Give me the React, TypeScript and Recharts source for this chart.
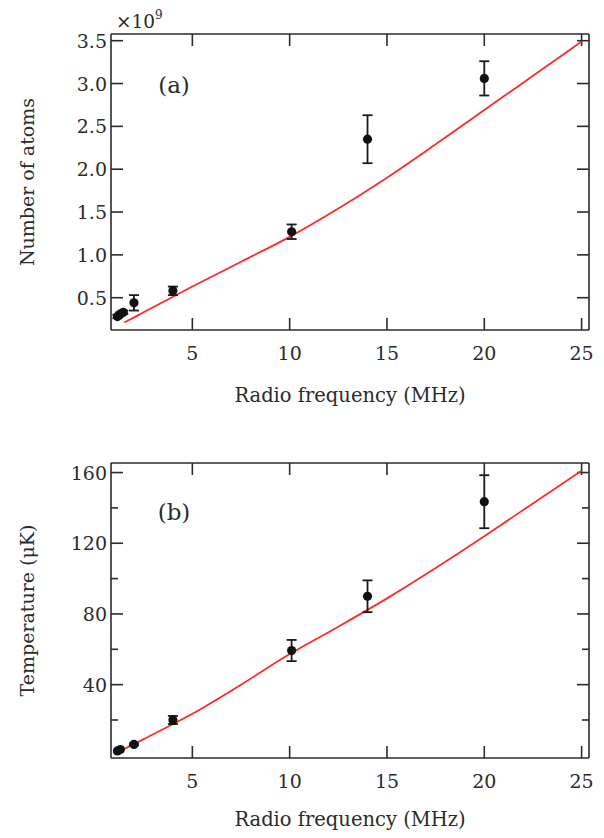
import { ScatterChart, Scatter, XAxis, YAxis } from 'recharts';

const FONT = '"DejaVu Serif", serif';
const INK = '#2b2b2b';
const FIT_RED = '#ff2a2a';

const freqTicks = [5, 10, 15, 20, 25];
const freqDomain = [0.82, 25.38];

// (a) number of atoms, units of 1e9
const atomFreq = [1.15, 1.3, 1.45, 2, 4, 10.1, 14, 20];
const atomCount = [0.28, 0.31, 0.33, 0.44, 0.58, 1.27, 2.35, 3.06];
const atomErr = [0.02, 0.02, 0.02, 0.09, 0.05, 0.085, 0.28, 0.2];
const atomFitFreq = [1.5, 2.5, 5, 7.5, 10, 12.5, 15, 17.5, 20, 22.5, 25];
const atomFit = [0.21, 0.33, 0.63, 0.92, 1.21, 1.54, 1.9, 2.29, 2.69, 3.09, 3.49];
const atomTicks = [0.5, 1.0, 1.5, 2.0, 2.5, 3.0, 3.5];

// (b) temperature, uK
const tempFreq = [1.15, 1.3, 2, 4, 10.1, 14, 20];
const tempVal = [2.5, 3.3, 6.2, 20, 59.3, 90, 143.5];
const tempErr = [0, 0, 0.5, 2.3, 6, 9, 15];
const tempFitFreq = [1.2, 2.5, 5, 7.5, 10, 12.5, 15, 17.5, 20, 22.5, 25];
const tempFit = [2.0, 9.2, 23.5, 40, 57.3, 72.8, 88.8, 106, 124, 142.5, 161];
const tempTicks = [40, 80, 120, 160];
const tempMinor = [20, 60, 100, 140];

const atomPoints = atomFreq.map((f, i) => ({ f, v: atomCount[i], err: atomErr[i] }));
const atomLine = atomFitFreq.map((f, i) => ({ f, v: atomFit[i] }));
const tempPoints = tempFreq.map((f, i) => ({ f, v: tempVal[i], err: tempErr[i] }));
const tempLine = tempFitFreq.map((f, i) => ({ f, v: tempFit[i] }));

const MAJOR = 12;
const MINOR = 7;

const axisLine = { stroke: INK, strokeWidth: 1.6 };
const emptyTick = () => <g />;

const leftLabel = (fmt: (v: number) => string) => (props: any) => (
  <text x={props.x} y={props.y} textAnchor="end" dominantBaseline="central" fontFamily={FONT} fontSize={19} fill={INK}>
    {fmt(props.payload.value)}
  </text>
);

const bottomLabel = (props: any) => (
  <text x={props.x} y={props.y} textAnchor="middle" dominantBaseline="central" fontFamily={FONT} fontSize={19} fill={INK}>
    {props.payload.value}
  </text>
);

const xTitle = (dy: number) => (props: any) => {
  const vb = props.viewBox;
  return (
    <text x={vb.x + vb.width / 2} y={vb.y + dy} textAnchor="middle" dominantBaseline="central" fontFamily={FONT} fontSize={19.5} fill={INK}>
      Radio frequency (MHz)
    </text>
  );
};

const yTitle = (text: string) => (props: any) => {
  const vb = props.viewBox;
  return (
    <text transform={`translate(27, ${vb.y + vb.height / 2}) rotate(-90)`} textAnchor="middle" dominantBaseline="central" fontFamily={FONT} fontSize={19} fill={INK}>
      {text}
    </text>
  );
};

// panel tag "(a)"/"(b)" and the x10^9 multiplier, placed from the top axis box
const panelTag = (tag: string, tagDy: number, multiplier: boolean) => (props: any) => {
  const vb = props.viewBox;
  const plotTop = vb.y + vb.height;
  return (
    <g fontFamily={FONT} fill={INK}>
      {multiplier && (
        <text x={vb.x + 5} y={plotTop - 6} fontSize={18.5}>
          ×10<tspan dy={-9} fontSize={12}>9</tspan>
        </text>
      )}
      <text x={vb.x + 63} y={plotTop + tagDy} textAnchor="middle" fontSize={23}>{tag}</text>
    </g>
  );
};

// data point with its vertical error bar; pxPerUnit follows the linear y scale of the panel
const pointShape = (pxPerUnit: number) => (p: any) => {
  const e = (p.payload.err || 0) * pxPerUnit;
  return (
    <g>
      {e > 0.5 && (
        <g stroke="#1a1a1a" strokeWidth={1.8}>
          <line x1={p.cx} y1={p.cy - e} x2={p.cx} y2={p.cy + e} />
          <line x1={p.cx - 5} y1={p.cy - e} x2={p.cx + 5} y2={p.cy - e} />
          <line x1={p.cx - 5} y1={p.cy + e} x2={p.cx + 5} y2={p.cy + e} />
        </g>
      )}
      <circle cx={p.cx} cy={p.cy} r={4.6} fill="#111" />
    </g>
  );
};
const noDot = () => <g />;

// inward frame tick, anchored at a point on the frame that the scales place
const frameTick = (p: any) => {
  const { dir, len } = p.payload;
  const dx = dir === 'right' ? len : dir === 'left' ? -len : 0;
  const dy = dir === 'down' ? len : dir === 'up' ? -len : 0;
  return <line x1={p.cx} y1={p.cy} x2={p.cx + dx} y2={p.cy + dy} stroke={INK} strokeWidth={1.6} />;
};

function Panel(props: {
  height: number; top: number; xAxisH: number; titleDy: number; tag: string; tagDy: number; multiplier: boolean;
  points: any[]; line: any[]; yDomain: number[]; yTicks: number[]; yMinor: number[];
  fmt: (v: number) => string; yLabel: string;
}) {
  const { height, top, xAxisH, titleDy, tag, tagDy, multiplier, points, line, yDomain, yTicks, yMinor, fmt, yLabel } = props;
  const plotH = height - top - xAxisH;
  const [x0, x1] = freqDomain;
  const [y0, y1] = yDomain;

  const frame = [
    ...freqTicks.map((f) => ({ f, v: y0, dir: 'up', len: MAJOR })),
    ...freqTicks.map((f) => ({ f, v: y1, dir: 'down', len: MAJOR })),
    ...yTicks.map((v) => ({ f: x0, v, dir: 'right', len: MAJOR })),
    ...yTicks.map((v) => ({ f: x1, v, dir: 'left', len: MAJOR })),
    ...yMinor.map((v) => ({ f: x0, v, dir: 'right', len: MINOR })),
    ...yMinor.map((v) => ({ f: x1, v, dir: 'left', len: MINOR })),
  ];

  return (
    <ScatterChart width={604} height={height} margin={{ top: 0, right: 0, bottom: 0, left: 0 }}>
      <XAxis type="number" dataKey="f" domain={freqDomain} allowDataOverflow ticks={freqTicks} interval={0}
        height={xAxisH} axisLine={axisLine} tickLine={false} tickSize={-12} tickMargin={35}
        tick={bottomLabel} label={{ content: xTitle(titleDy) }} />
      <XAxis xAxisId="top" orientation="top" type="number" dataKey="f" domain={freqDomain} allowDataOverflow
        ticks={freqTicks} interval={0} height={top} axisLine={axisLine} tickLine={false}
        tick={emptyTick} label={{ content: panelTag(tag, tagDy, multiplier) }} />
      <YAxis type="number" dataKey="v" domain={yDomain} allowDataOverflow ticks={yTicks} interval={0}
        width={111} axisLine={axisLine} tickLine={false} tickSize={-12} tickMargin={16}
        tick={leftLabel(fmt)} label={{ content: yTitle(yLabel) }} />
      <YAxis yAxisId="right" orientation="right" type="number" dataKey="v" domain={yDomain} allowDataOverflow
        ticks={yTicks} interval={0} width={604 - 589} axisLine={axisLine} tickLine={false} tick={emptyTick} />
      <Scatter data={frame} fill={INK} shape={frameTick} isAnimationActive={false} legendType="none" />
      <Scatter data={line} fill={FIT_RED} line={{ stroke: FIT_RED, strokeWidth: 1.8 }} lineJointType="monotoneX"
        shape={noDot} isAnimationActive={false} legendType="none" />
      <Scatter data={points} fill="#111" shape={pointShape(plotH / (y1 - y0))} isAnimationActive={false} legendType="none" />
    </ScatterChart>
  );
}

export default function App() {
  return (
    <div style={{ marginLeft: -8, marginTop: -8, width: 604, height: 838, background: '#fff' }}>
      <Panel height={420} top={34} xAxisH={90} titleDy={65.5} tag="(a)" tagDy={59} multiplier
        points={atomPoints} line={atomLine} yDomain={[0.123, 3.578]} yTicks={atomTicks} yMinor={[]}
        fmt={(v) => v.toFixed(1)} yLabel="Number of atoms" />
      <Panel height={418} top={43} xAxisH={80} titleDy={61} tag="(b)" tagDy={57} multiplier={false}
        points={tempPoints} line={tempLine} yDomain={[-1.5, 165.4]} yTicks={tempTicks} yMinor={tempMinor}
        fmt={(v) => String(v)} yLabel="Temperature (μK)" />
    </div>
  );
}
